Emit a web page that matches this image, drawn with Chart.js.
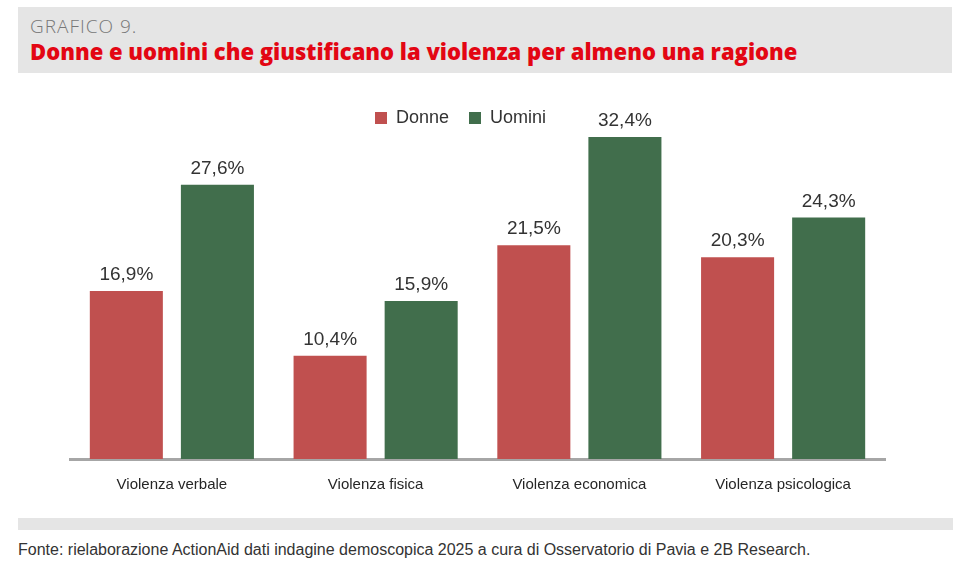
<!DOCTYPE html>
<html>
<head>
<meta charset="utf-8">
<script src="https://cdn.jsdelivr.net/npm/chart.js@4"></script>
<style>
  body { margin: 0; background: #fff; width: 970px; height: 570px; position: relative; overflow: hidden; }
  .header { position: absolute; left: 18px; top: 7px; width: 934px; height: 66px; background: #e5e5e5; }
  .kicker { position: absolute; left: 12px; top: 6px; font-family: "Open Sans", sans-serif; font-weight: 300; font-size: 19px; letter-spacing: 1px; color: #777; }
  .title { position: absolute; left: 12px; top: 29px; font-family: "Open Sans", sans-serif; font-weight: 800; font-size: 22px; color: #e30613; white-space: nowrap; }
  .bar { position: absolute; left: 18px; top: 518px; width: 935px; height: 12px; background: #e5e5e5; }
  .source { position: absolute; left: 18px; top: 541px; font-family: "Liberation Sans", Arial, sans-serif; font-size: 16px; color: #333; white-space: nowrap; }
  .wrap { position: absolute; left: 0; top: 89px; width: 970px; height: 414px; }
</style>
</head>
<body>
<div class="header">
  <div class="kicker">GRAFICO 9.</div>
  <div class="title">Donne e uomini che giustificano la violenza per almeno una ragione</div>
</div>
<div class="wrap"><canvas id="chart"></canvas></div>
<div class="bar"></div>
<div class="source">Fonte: rielaborazione ActionAid dati indagine demoscopica 2025 a cura di Osservatorio di Pavia e 2B Research.</div>
<script>
const categories = ["Violenza verbale", "Violenza fisica", "Violenza economica", "Violenza psicologica"];
const donne = [16.9, 10.4, 21.5, 20.3];
const uomini = [27.6, 15.9, 32.4, 24.3];

const sans = '"Liberation Sans", Arial, sans-serif';

// etichette sopra le barre
const valueLabels = {
  id: "valueLabels",
  afterDatasetsDraw(chart) {
    const ctx = chart.ctx;
    ctx.save();
    ctx.font = "19px " + sans;
    ctx.fillStyle = "#333";
    ctx.textAlign = "center";
    ctx.textBaseline = "alphabetic";
    chart.data.datasets.forEach((ds, i) => {
      chart.getDatasetMeta(i).data.forEach((el, j) => {
        ctx.fillText(ds.data[j].toFixed(1).replace(".", ",") + "%", el.x, el.y - 11);
      });
    });
    ctx.restore();
  }
};

new Chart(document.getElementById("chart"), {
  type: "bar",
  data: {
    labels: categories,
    datasets: [
      { label: "Donne", data: donne, backgroundColor: "#c0504f" },
      { label: "Uomini", data: uomini, backgroundColor: "#416e4c" }
    ]
  },
  options: {
    responsive: true,
    maintainAspectRatio: false,
    animation: false,
    layout: { padding: { left: 36, right: 85, top: 0, bottom: 0 } },
    datasets: { bar: { categoryPercentage: 0.894, barPercentage: 0.802 } },
    plugins: {
      legend: {
        position: "top",
        labels: {
          boxWidth: 12, boxHeight: 12, padding: 20,
          color: "#333",
          font: { family: sans, size: 18 }
        }
      },
      tooltip: { enabled: false }
    },
    scales: {
      x: {
        grid: { display: false },
        border: { color: "#a6a6a6", width: 3 },
        ticks: { color: "#262626", padding: 9, font: { family: sans, size: 15 } }
      },
      y: {
        min: 0, max: 32.4,
        grid: { display: false },
        border: { display: false },
        ticks: { display: false },
        afterFit: s => { s.width = 34; }
      }
    }
  },
  plugins: [valueLabels]
});
</script>
</body>
</html>
